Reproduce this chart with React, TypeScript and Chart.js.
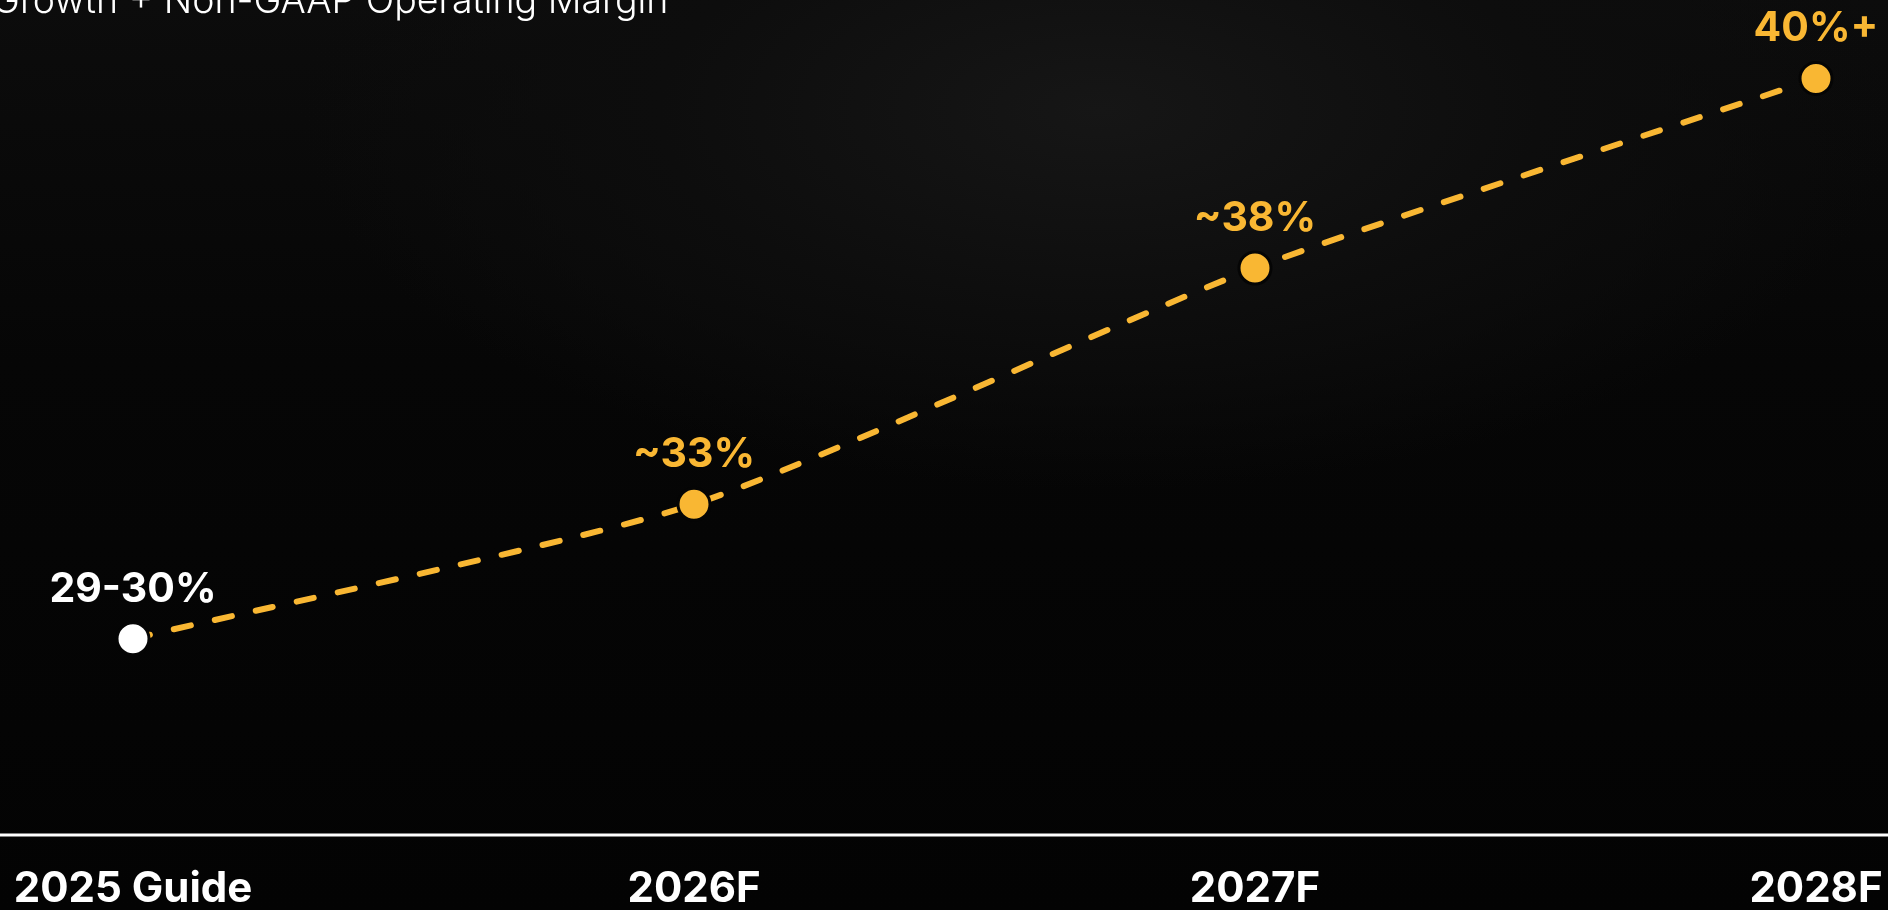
import React, { useEffect, useRef } from "react";
import { Chart, registerables } from "chart.js";

Chart.register(...registerables);

// ---- data ----
const titleText = "Growth + Non-GAAP Operating Margin";
const categories = ["2025 Guide", "2026F", "2027F", "2028F"];
const marginLabels = ["29-30%", "~33%", "~38%", "40%+"];
// visual height of each point on the (unlabelled) chart, 0-100
const plotLevel = [23.5, 39.6, 67.9, 90.6];

const ORANGE = "#F9B733";
const WHITE = "#FFFFFF";
const pointColors = [WHITE, ORANGE, ORANGE, ORANGE];

const W = 1888;
const H = 910;

const baselinePlugin = {
  id: "fullBaseline",
  beforeDatasetsDraw(chart: any) {
    const x = chart.scales.x;
    const ctx = chart.ctx;
    ctx.save();
    ctx.strokeStyle = WHITE;
    ctx.lineWidth = 3;
    ctx.beginPath();
    ctx.moveTo(0, x.top);
    ctx.lineTo(chart.width, x.top);
    ctx.stroke();
    ctx.restore();
  },
};

const pointLabelPlugin = {
  id: "pointLabels",
  afterDatasetsDraw(chart: any) {
    const meta = chart.getDatasetMeta(0);
    const ctx = chart.ctx;
    ctx.save();
    ctx.font = "700 41px Inter";
    ctx.textAlign = "center";
    ctx.textBaseline = "alphabetic";
    meta.data.forEach((pt: any, i: number) => {
      ctx.fillStyle = pointColors[i];
      ctx.fillText(marginLabels[i], pt.x, pt.y - 37);
    });
    ctx.restore();
  },
};

export default function App() {
  const canvasRef = useRef<HTMLCanvasElement | null>(null);

  useEffect(() => {
    if (!canvasRef.current) return;
    Chart.defaults.font.family = "Inter";
    const chart = new Chart(canvasRef.current, {
      type: "line",
      data: {
        labels: categories,
        datasets: [
          {
            data: plotLevel,
            borderColor: ORANGE,
            borderWidth: 6,
            borderDash: [17.5, 24.5],
            borderCapStyle: "round",
            tension: 0.2,
            clip: false as any,
            pointRadius: 16,
            pointHoverRadius: 16,
            pointBorderWidth: 3,
            pointBorderColor: "#050505",
            pointBackgroundColor: pointColors,
            fill: false,
          },
        ],
      },
      options: {
        responsive: false,
        animation: false,
        events: [],
        layout: { autoPadding: false, padding: { left: 133, right: 72, top: 0, bottom: 0 } },
        plugins: {
          legend: { display: false },
          tooltip: { enabled: false },
          title: { display: false },
        },
        scales: {
          x: {
            type: "category",
            offset: false,
            grid: { display: false, drawTicks: false },
            border: { display: false },
            afterFit: (scale: any) => {
              scale.height = 75;
            },
            ticks: {
              color: WHITE,
              padding: 0,
              maxRotation: 0,
              autoSkip: false,
              font: { family: "Inter", size: 42, weight: "700", lineHeight: 2.6 },
            },
          },
          y: { display: false, min: 0, max: 100 },
        },
      },
      plugins: [baselinePlugin, pointLabelPlugin],
    });
    return () => chart.destroy();
  }, []);

  return (
    <div
      style={{
        position: "fixed",
        left: 0,
        top: 0,
        width: W,
        height: H,
        overflow: "hidden",
        background:
          "radial-gradient(ellipse 800px 380px at 1100px 110px, #161616 0%, #0d0d0d 55%, rgba(3,3,3,0) 100%), linear-gradient(to bottom, #0c0c0c 0%, #060606 40%, #030303 100%)",
      }}
    >
      <canvas
        ref={canvasRef}
        width={W}
        height={H}
        style={{ position: "absolute", left: 0, top: 0, width: W, height: H }}
      />
      <div
        style={{
          position: "absolute",
          left: -8,
          top: -19.5,
          fontFamily: "Inter",
          fontWeight: 300,
          fontSize: 37.5,
          lineHeight: "37.5px",
          color: WHITE,
          whiteSpace: "nowrap",
        }}
      >
        {titleText}
      </div>
    </div>
  );
}
